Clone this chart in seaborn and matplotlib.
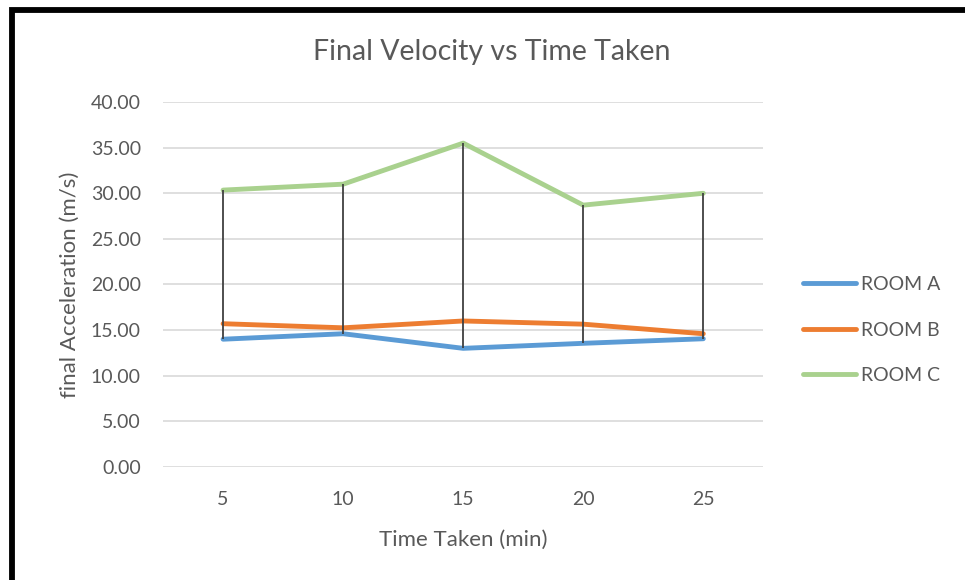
import matplotlib.pyplot as plt
from matplotlib.patches import Rectangle
import pandas as pd
import numpy as np
import seaborn as sns

times = ['5', '10', '15', '20', '25']
room_a = [14.0, 14.6, 13.0, 13.55, 14.05]
room_b = [15.7, 15.25, 16.0, 15.65, 14.6]
room_c = [30.35, 31.0, 35.5, 28.7, 30.0]
rooms = ['ROOM A', 'ROOM B', 'ROOM C']
colors = ['#5B9BD5', '#ED7D31', '#A9D18E']

df = pd.DataFrame({
    'time': times * 3,
    'value': room_a + room_b + room_c,
    'room': np.repeat(rooms, len(times)),
})
df['pos'] = np.tile(np.arange(len(times)), 3)

sns.set_style('white')
plt.rcParams['font.family'] = ['Lato', 'DejaVu Sans']

fig = plt.figure(figsize=(9.65, 5.8), dpi=100)
ax = fig.add_axes([0.169, 0.195, 0.622, 0.629])

# high-low lines between the lowest and highest series at each category
vals = np.array([room_a, room_b, room_c])
ax.vlines(np.arange(len(times)), vals.min(axis=0), vals.max(axis=0),
          color='#404040', lw=1.3, zorder=3)

sns.lineplot(data=df, x='pos', y='value', hue='room', palette=colors,
             lw=3.5, ax=ax, zorder=2, legend=False)

ax.set_xlim(-0.5, len(times) - 0.5)
ax.set_ylim(0, 40)
ax.set_yticks(np.arange(0, 41, 5))
ax.set_yticklabels([f'{v:.2f}' for v in np.arange(0, 41, 5)])
ax.set_xticks(np.arange(len(times)))
ax.set_xticklabels(times)
ax.tick_params(length=0, labelsize=14, labelcolor='#595959')
ax.tick_params(axis='y', pad=16)
ax.tick_params(axis='x', pad=17)
ax.yaxis.grid(True, color='#d9d9d9', lw=1.2)
ax.set_axisbelow(True)
for s in ax.spines.values():
    s.set_visible(False)

fig.text(0.51, 0.91, 'Final Velocity vs Time Taken', fontsize=20.5, color='#595959',
         ha='center', va='center')
ax.set_xlabel('Time Taken (min)', fontsize=16, color='#595959', labelpad=16)
ax.set_ylabel('final Acceleration (m/s)', fontsize=16, color='#595959', labelpad=8)

handles = [plt.Line2D([], [], color=c, lw=3.5, solid_capstyle='round') for c in colors]
fig.legend(handles, rooms, loc='center left', bbox_to_anchor=(0.814, 0.431),
           frameon=False, fontsize=14, labelspacing=1.48, handlelength=2.75,
           handletextpad=0.25, labelcolor='#595959')

fig.patches.append(Rectangle((0.0124, -0.1), 1.2, 1.083, transform=fig.transFigure,
                             fill=False, edgecolor='black', lw=4.2))

fig.savefig('out.png', dpi=100)
